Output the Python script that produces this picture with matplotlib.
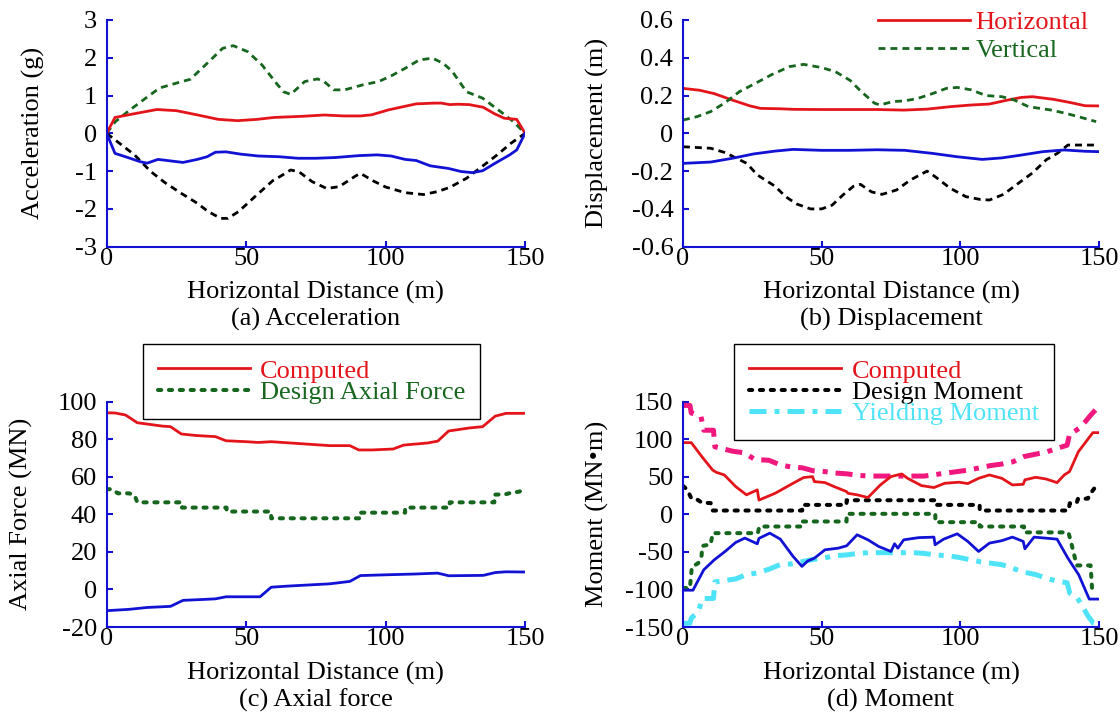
import matplotlib
matplotlib.use("Agg")
import matplotlib.pyplot as plt

plt.rcParams['font.family'] = ['Liberation Serif', 'DejaVu Serif']
plt.rcParams['font.size'] = 19
plt.rcParams['axes.unicode_minus'] = False

RED = '#e3151b'
GREEN = '#16661e'
BLUE = '#1212d4'
MAGENTA = '#f0187f'
CYAN = '#4fe3f7'

dist_ticks = [0, 50, 100, 150]

# (a) acceleration, g
acc_h_max_x = [0, 3, 10, 18, 25, 33, 40, 47, 54, 60, 70, 78, 85, 91, 95, 101, 106, 111, 117.5, 120, 123, 126, 130, 135, 139, 142.5, 147, 150]
acc_h_max = [0, 0.42, 0.52, 0.63, 0.6, 0.48, 0.37, 0.335, 0.37, 0.42, 0.45, 0.485, 0.46, 0.46, 0.49, 0.62, 0.7, 0.78, 0.8, 0.8, 0.76, 0.77, 0.76, 0.69, 0.52, 0.4, 0.37, 0]
acc_v_max_x = [0, 3, 8, 14, 19, 26, 30, 36, 41.6, 45.4, 50.6, 55.7, 60.9, 63.4, 66, 71, 75.6, 78, 81.4, 85.3, 91.7, 97.5, 102, 107, 112, 116.8, 120.7, 124, 129, 134.8, 142, 145.8, 150]
acc_v_max = [0, 0.3, 0.6, 0.93, 1.2, 1.35, 1.43, 1.85, 2.25, 2.32, 2.16, 1.81, 1.32, 1.1, 1.03, 1.37, 1.44, 1.37, 1.15, 1.15, 1.28, 1.37, 1.52, 1.72, 1.94, 1.99, 1.85, 1.63, 1.1, 0.93, 0.53, 0.31, 0]
acc_h_min_x = [0, 3, 8, 12, 14.5, 18.4, 22.9, 27.4, 32.5, 36, 39, 42.8, 48, 54.4, 62, 68.6, 75, 82, 90.4, 97, 102, 107, 111, 116, 122.6, 127, 131, 134.8, 139.3, 144.5, 147, 150]
acc_h_min = [0, -0.53, -0.65, -0.75, -0.79, -0.69, -0.73, -0.77, -0.69, -0.62, -0.5, -0.49, -0.55, -0.6, -0.62, -0.66, -0.66, -0.64, -0.59, -0.57, -0.6, -0.69, -0.72, -0.86, -0.93, -1.01, -1.04, -0.99, -0.79, -0.57, -0.44, 0]
acc_v_min_x = [0, 4.9, 10, 15.8, 21, 26.8, 32.5, 36.4, 40.9, 43.5, 47.3, 52.5, 59.6, 62, 66, 69, 73.7, 78.9, 83.4, 89.2, 91, 95.6, 100, 107, 113.6, 118.7, 123, 129, 134.2, 140, 145, 150]
acc_v_min = [0, -0.28, -0.57, -1.01, -1.31, -1.59, -1.85, -2.07, -2.25, -2.25, -2.07, -1.72, -1.25, -1.15, -0.97, -1.02, -1.28, -1.46, -1.41, -1.13, -1.06, -1.26, -1.42, -1.57, -1.62, -1.54, -1.43, -1.19, -0.9, -0.57, -0.26, 0]
acc_ticks = [-3, -2, -1, 0, 1, 2, 3]
acc_labels = ['-3', '-2', '-1', '0', '1', '2', '3']

# (b) displacement, m
dis_h_max_x = [0, 6, 11.3, 17.8, 24.2, 28, 35, 39.7, 50, 60, 70, 79.6, 88, 96.3, 104, 110.5, 117, 122, 126, 133.6, 140, 145, 150]
dis_h_max = [0.238, 0.228, 0.21, 0.176, 0.145, 0.132, 0.13, 0.127, 0.126, 0.126, 0.126, 0.123, 0.128, 0.141, 0.15, 0.155, 0.176, 0.19, 0.194, 0.18, 0.162, 0.146, 0.145]
dis_v_max_x = [0, 5, 10, 15.2, 20.3, 26.8, 31.9, 38.4, 43.5, 50, 55, 60.3, 64, 69, 71, 75.7, 80, 84.7, 89.9, 95, 98.9, 104, 109.2, 115, 119.5, 124.6, 132.4, 138, 142.6, 149]
dis_v_max = [0.07, 0.088, 0.115, 0.162, 0.22, 0.27, 0.31, 0.353, 0.365, 0.348, 0.326, 0.28, 0.225, 0.16, 0.15, 0.168, 0.172, 0.185, 0.21, 0.238, 0.243, 0.23, 0.2, 0.194, 0.176, 0.141, 0.124, 0.106, 0.088, 0.062]
dis_v_min_x = [0, 10, 15.2, 23, 26.8, 33.2, 37, 41, 46, 50, 53.8, 57.7, 61.5, 64, 68, 71.8, 77, 82, 88, 91, 96.3, 102, 107.2, 110.5, 115.6, 119.5, 126, 131, 135, 138.8, 150]
dis_v_min = [-0.071, -0.079, -0.102, -0.159, -0.22, -0.28, -0.335, -0.374, -0.4, -0.4, -0.38, -0.326, -0.28, -0.27, -0.31, -0.323, -0.3, -0.247, -0.2, -0.23, -0.29, -0.335, -0.35, -0.353, -0.323, -0.28, -0.21, -0.14, -0.106, -0.062, -0.062]
dis_h_min_x = [0, 10, 17.8, 25.5, 33.2, 39.7, 50, 60, 70, 80, 89.9, 98.9, 107.9, 115, 122, 129.8, 137.5, 145, 150]
dis_h_min = [-0.159, -0.152, -0.132, -0.109, -0.094, -0.085, -0.09, -0.09, -0.087, -0.09, -0.106, -0.124, -0.138, -0.13, -0.115, -0.097, -0.088, -0.095, -0.097]
dis_ticks = [-0.6, -0.4, -0.2, 0, 0.2, 0.4, 0.6]
dis_labels = ['-0.6', '-0.4', '-0.2', '0', '0.2', '0.4', '0.6']

# (c) axial force, MN
ax_max_x = [0, 3, 6.8, 11, 15, 20, 22.9, 26.8, 32, 39, 42.8, 50, 54.4, 59, 70, 80, 87.2, 90.4, 95, 102.7, 106.5, 115, 118.7, 122.6, 130, 134.8, 139.3, 143.2, 150]
ax_max = [94.1, 94, 92.9, 88.8, 88, 87, 86.7, 82.8, 82, 81.4, 79.2, 78.7, 78.3, 78.7, 77.6, 76.6, 76.6, 74.3, 74.3, 74.8, 76.9, 78, 79, 84.4, 86, 86.7, 92.3, 93.8, 93.8]
ax_min_x = [0, 8, 14.5, 22.9, 27.4, 35, 39, 42.8, 55, 59, 65, 80, 87.2, 91, 100, 110, 118.7, 122.6, 135, 139.3, 143, 150]
ax_min = [-11.3, -10.6, -9.6, -9, -5.8, -5.3, -5, -3.9, -3.9, 1.2, 1.8, 3, 4.3, 7.4, 7.8, 8.2, 8.7, 7.3, 7.5, 9, 9.4, 9.3]
ax_design_x = [0, 2, 4, 8, 10, 11, 27, 27, 43, 43, 59, 59, 91, 91, 107, 107, 123, 123, 139, 139, 143, 145, 148, 150]
ax_design = [53.4, 53.4, 51.2, 51.2, 50.3, 46.4, 46.4, 43.6, 43.6, 41.5, 41.5, 37.9, 37.9, 40.9, 40.9, 43.6, 43.6, 46.4, 46.4, 50.5, 50.7, 51.5, 52.1, 54.4]
ax_ticks = [-20, 0, 20, 40, 60, 80, 100]
ax_labels = ['-20', '0', '20', '40', '60', '80', '100']

# (d) moment, MN*m
mo_max_x = [0, 3, 6.8, 10.7, 12, 14.9, 19, 22.9, 26.8, 27.4, 33.2, 35, 39.7, 43.5, 46.7, 47.4, 51.2, 54.5, 59, 59.5, 62.8, 66.7, 71.2, 75, 78.9, 81, 86, 90.5, 94.4, 99.5, 102.7, 106.6, 110.5, 115, 118.8, 122.7, 123.3, 127.2, 131, 134.9, 137.5, 139.4, 142.6, 147.8, 150]
mo_max = [95.5, 95.5, 76.9, 59, 56, 52.5, 37, 26, 32.6, 19, 28, 31.7, 41.4, 49, 50.3, 43.6, 42.3, 37, 30.3, 28, 26, 22.4, 39.2, 50.3, 53.8, 48, 38.3, 35.7, 41.4, 42.8, 41, 48, 52.5, 48, 39.2, 40, 45.9, 49.4, 47, 42.3, 52.5, 57, 83.5, 108.8, 108.8]
mo_min_x = [0, 3.6, 7.5, 11.3, 15.2, 19, 22.3, 26.8, 27.4, 31.3, 35.1, 39.7, 42.9, 45, 47.4, 51.2, 56, 59, 62.8, 66.7, 70.6, 75, 76.3, 77.5, 79.6, 85, 90.5, 90.9, 94, 98.9, 102.7, 106.6, 110.5, 115, 118.8, 122.7, 123.3, 126.6, 134.9, 138.8, 142.7, 146.5, 150]
mo_min = [-101, -101, -73.8, -60.5, -49.4, -37.4, -31.6, -39.2, -32, -25, -33, -56, -69.3, -62, -58.3, -47.2, -45, -41.9, -27.2, -33.9, -42.8, -49.4, -39.2, -45, -33.9, -31, -30.3, -40.5, -33, -25.9, -36, -49.4, -38.3, -35, -30.3, -36, -45.9, -30.3, -33, -58.3, -80.4, -112.8, -112.8]
mo_design_pos_x = [0, 1.5, 3, 5, 6.8, 10, 10.7, 43, 43, 59, 59, 91, 91, 107, 107, 139, 139.5, 142, 142.4, 146, 147, 149]
mo_design_pos = [37.9, 33, 21.5, 20, 15.7, 15, 5.1, 5.1, 12.6, 12.6, 18.8, 18.8, 12.6, 12.6, 5.1, 5.1, 14.9, 15.5, 20.6, 21, 28, 37.9]
mo_design_neg_x = [0, 2.5, 3.2, 5.5, 6.7, 7, 10, 10.7, 27, 27.5, 43, 43, 59, 59, 91, 91, 107, 107, 123, 123, 139, 140, 142, 147, 147.5, 149]
mo_design_neg = [-98, -98, -70, -65, -55, -42, -40, -25, -25, -16.2, -16.2, -9.5, -9.5, 0.7, 0.7, -10.4, -10.4, -16.2, -16.2, -24, -24, -38, -68, -68, -98, -98]
mo_yield_pos_x = [0, 2.5, 3, 6.5, 7.5, 11, 11.5, 18, 22, 26, 31, 35, 39, 43, 47, 51, 55, 59, 63, 67, 71, 75, 79, 83, 87, 91, 95, 99, 103, 107, 111, 115, 119, 123, 127, 131, 135, 138.5, 139.5, 141, 143, 145, 147, 150]
mo_yield_pos = [145, 145, 135, 130, 112, 112, 90, 84, 82, 73, 72, 66, 63, 62, 58, 57, 55, 54, 52, 51, 51, 51, 51, 51, 51, 53, 55, 57, 59, 62, 65, 67, 70, 77, 80, 83, 88, 92, 108, 110, 115, 123, 132, 144]
mo_yield_neg_x = [0, 2.5, 3, 5.5, 7, 11, 11.5, 19, 23, 27, 31, 35, 39, 43, 47, 51, 55, 59, 63, 67, 71, 75, 79, 83, 87, 91, 95, 99, 103, 107, 111, 115, 119, 123, 127, 131, 135, 138.5, 139.5, 142, 144, 146, 148, 150]
mo_yield_neg = [-145, -145, -138, -130, -112, -112, -90, -86, -80, -78, -73, -67, -66, -63, -60, -58, -55, -54, -52, -51, -51, -51, -51, -51, -52, -54, -55, -57, -60, -63, -65, -67, -72, -77, -80, -85, -89, -91, -105, -110, -122, -135, -145, -147]
mo_ticks = [-150, -100, -50, 0, 50, 100, 150]
mo_labels = ['-150', '-100', '-50', '0', '50', '100', '150']

DASHED = (0, (2.5, 1.8))
DOTTED = (0, (0.8, 1.9))
DASHDOT = (0, (3.4, 1.6, 1.0, 1.6))


def style(ax, ylim, ticks, labels, ylabel, caption, label_x):
    ax.set_xlim(0, 150)
    ax.set_ylim(*ylim)
    ax.set_xticks(dist_ticks)
    ax.set_xticklabels([str(t) for t in dist_ticks])
    ax.set_yticks(ticks)
    ax.set_yticklabels(labels)
    for s in ['top', 'right']:
        ax.spines[s].set_visible(False)
    for s in ['left', 'bottom']:
        ax.spines[s].set_color(BLUE)
        ax.spines[s].set_linewidth(1.5)
    ax.tick_params(direction='in', length=4, width=1.5, color=BLUE, labelsize=19)
    ax.tick_params(axis='y', pad=7)
    ax.tick_params(axis='x', pad=1)
    ax.set_xlabel('Horizontal Distance (m)\n' + caption, linespacing=1.22, labelpad=8)
    ax.set_ylabel(ylabel)
    ax.yaxis.set_label_coords(label_x, 0.5)


fig = plt.figure(figsize=(11.2, 7.13), dpi=100)
ax_a = fig.add_axes([0.0952, 0.654, 0.3736, 0.318])
ax_b = fig.add_axes([0.6098, 0.654, 0.3714, 0.318])
ax_c = fig.add_axes([0.0952, 0.1206, 0.3736, 0.316])
ax_d = fig.add_axes([0.6098, 0.1206, 0.3714, 0.316])

# (a)
ax_a.plot(acc_v_max_x, acc_v_max, color=GREEN, lw=2, ls=DASHED)
ax_a.plot(acc_v_min_x, acc_v_min, color='black', lw=2, ls=DASHED)
ax_a.plot(acc_h_max_x, acc_h_max, color=RED, lw=2)
ax_a.plot(acc_h_min_x, acc_h_min, color=BLUE, lw=2)
style(ax_a, (-3, 3), acc_ticks, acc_labels, 'Acceleration (g)', '(a) Acceleration', -0.148)

# (b)
lb1, = ax_b.plot(dis_h_max_x, dis_h_max, color=RED, lw=2, label='Horizontal')
lb2, = ax_b.plot(dis_v_max_x, dis_v_max, color=GREEN, lw=2, ls=DASHED, label='Vertical')
ax_b.plot(dis_v_min_x, dis_v_min, color='black', lw=2, ls=DASHED)
ax_b.plot(dis_h_min_x, dis_h_min, color=BLUE, lw=2)
style(ax_b, (-0.6, 0.6), dis_ticks, dis_labels, 'Displacement (m)', '(b) Displacement', -0.179)
fig.legend(handles=[lb1, lb2], loc='upper left', bbox_to_anchor=(0.7726, 1.003),
           bbox_transform=fig.transFigure, frameon=False, labelcolor='linecolor',
           handlelength=3.5, handletextpad=0.2, labelspacing=0.18, borderpad=0.48,
           borderaxespad=0)

# (c)
lc1, = ax_c.plot(ax_max_x, ax_max, color=RED, lw=2, label='Computed')
ax_c.plot(ax_min_x, ax_min, color=BLUE, lw=2)
lc2, = ax_c.plot(ax_design_x, ax_design, color=GREEN, lw=2.9, ls=DOTTED,
                 dash_capstyle='round', label='Design Axial Force')
style(ax_c, (-20, 100), ax_ticks, ax_labels, 'Axial Force (MN)', '(c) Axial force', -0.177)
leg_c = fig.legend(handles=[lc1, lc2], loc='upper left', bbox_to_anchor=(0.1277, 0.517),
                   bbox_transform=fig.transFigure, fancybox=False, edgecolor='black',
                   framealpha=1, labelcolor='linecolor', handlelength=3.5,
                   handletextpad=0.38, labelspacing=-0.08, borderpad=0.56, borderaxespad=0)
leg_c.get_frame().set_linewidth(1)

# (d)
ax_d.plot(mo_yield_pos_x, mo_yield_pos, color=MAGENTA, lw=3.6, ls=DASHDOT)
ld3, = ax_d.plot(mo_yield_neg_x, mo_yield_neg, color=CYAN, lw=3.6, ls=DASHDOT, label='Yielding Moment')
ld2, = ax_d.plot(mo_design_pos_x, mo_design_pos, color='black', lw=2.9, ls=DOTTED,
                 dash_capstyle='round', label='Design Moment')
ax_d.plot(mo_design_neg_x, mo_design_neg, color=GREEN, lw=2.9, ls=DOTTED, dash_capstyle='round')
ld1, = ax_d.plot(mo_max_x, mo_max, color=RED, lw=2, label='Computed')
ax_d.plot(mo_min_x, mo_min, color=BLUE, lw=2)
style(ax_d, (-150, 150), mo_ticks, mo_labels, 'Moment (MN\u2022m)', '(d) Moment', -0.179)
leg_d = fig.legend(handles=[ld1, ld2, ld3], loc='upper left', bbox_to_anchor=(0.6554, 0.517),
                   bbox_transform=fig.transFigure, fancybox=False, edgecolor='black',
                   framealpha=1, labelcolor='linecolor', handlelength=3.5,
                   handletextpad=0.42, labelspacing=-0.08, borderpad=0.56, borderaxespad=0)
leg_d.get_frame().set_linewidth(1)

fig.savefig('out.png', dpi=100)
